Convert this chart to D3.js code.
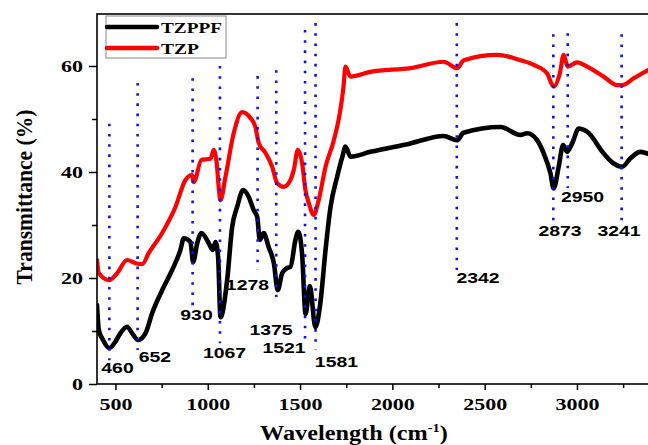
<!DOCTYPE html>
<html>
<head>
<meta charset="utf-8">
<script src="https://cdn.jsdelivr.net/npm/d3@7"></script>
<style>
  body { margin: 0; background: #fff; }
  svg { display: block; }
</style>
</head>
<body>
<div id="chart"></div>
<script>
// FTIR spectra
const blackWave = [400, 410, 430, 467, 500, 527, 563, 590, 623, 663, 699, 753, 807, 852, 870, 906, 921, 943, 966, 1005, 1027, 1042, 1056, 1069, 1105, 1132, 1159, 1192, 1222, 1249, 1268, 1282, 1303, 1330, 1358, 1379, 1403, 1430, 1448, 1475, 1490, 1511, 1530, 1553, 1583, 1610, 1638, 1665, 1701, 1730, 1746, 1773, 1881, 2098, 2278, 2351, 2385, 2586, 2694, 2730, 2784, 2820, 2856, 2874, 2901, 2925, 2947, 2974, 3010, 3055, 3145, 3199, 3245, 3290, 3344, 3400];
const blackT = [14.9, 10.2, 8.5, 6.8, 8.0, 9.6, 10.8, 9.6, 8.3, 9.6, 13.4, 17.7, 21.5, 25.3, 27.5, 26.8, 23.0, 26.6, 28.5, 26.6, 25.3, 26.8, 24.0, 12.6, 19.6, 29.6, 33.4, 36.6, 35.3, 32.8, 31.5, 27.2, 28.5, 25.8, 22.8, 17.7, 20.9, 21.9, 22.1, 27.2, 28.7, 24.5, 13.2, 18.5, 10.7, 15.3, 25.3, 33.4, 39.1, 43.0, 44.8, 42.9, 43.8, 45.4, 46.8, 46.0, 47.4, 48.5, 47.0, 47.3, 46.0, 43.5, 39.8, 36.9, 41.0, 45.1, 43.8, 45.4, 48.2, 47.6, 43.5, 41.6, 41.0, 42.6, 43.8, 43.2];

const redWave = [400, 410, 467, 509, 563, 608, 645, 680, 753, 825, 879, 915, 924, 966, 1015, 1032, 1045, 1069, 1096, 1141, 1186, 1231, 1258, 1276, 1313, 1349, 1376, 1412, 1448, 1466, 1488, 1511, 1529, 1547, 1574, 1601, 1638, 1683, 1715, 1735, 1746, 1773, 1881, 2098, 2278, 2351, 2387, 2568, 2694, 2766, 2838, 2874, 2907, 2928, 2950, 3001, 3055, 3145, 3217, 3245, 3308, 3400];
const redT = [23.4, 20.9, 19.6, 20.9, 23.4, 22.8, 22.6, 24.7, 28.5, 33.4, 38.5, 39.4, 38.1, 42.3, 42.5, 44.2, 42.6, 34.7, 39.1, 47.4, 51.3, 50.2, 48.5, 45.5, 43.6, 41.0, 37.9, 37.2, 38.5, 40.4, 44.2, 41.7, 36.6, 34.2, 31.9, 34.7, 41.0, 46.0, 51.0, 56.0, 59.9, 58.0, 58.9, 59.6, 60.8, 59.6, 61.1, 62.1, 61.1, 60.2, 58.6, 56.1, 58.6, 62.1, 59.9, 60.7, 59.9, 58.0, 56.4, 56.4, 57.7, 59.5];

const seriesNames = ["TZPPF", "TZP"];
const seriesColors = ["#000000", "#ff0000"];

// peak markers (dotted lines) and their labels, in data units
const peakLabels = ["460", "652", "930", "1067", "1278", "1375", "1521", "1581", "2342", "2873", "2950", "3241"];
const peakWave = [467, 620, 918, 1066, 1270, 1371, 1527, 1584, 2349, 2872, 2950, 3242];
const peakTop = [49.1, 56.8, 57.7, 60.0, 58.1, 59.2, 66.8, 68.1, 68.1, 66.0, 66.2, 66.0];
const peakBottom = [4.5, 6.4, 14.5, 7.7, 21.5, 16.4, 8.3, 6.4, 21.5, 30.9, 37.0, 30.9];
const labelWave = [511, 714, 939, 1091, 1215, 1343, 1413, 1697, 2464, 2908, 3030, 3228];
const labelT = [2.1, 4.2, 12.1, 4.9, 17.7, 9.2, 5.8, 3.2, 19.1, 27.9, 34.3, 27.9];

const xMajor = [500, 1000, 1500, 2000, 2500, 3000];
const xMinor = [750, 1250, 1750, 2250, 2750, 3250];
const yMajor = [0, 20, 40, 60];
const yMinor = [10, 30, 50];

const W = 648, H = 445;
const plotLeft = 97, plotTop = 14, plotBottom = 384;

const svg = d3.select("#chart")
  .append("svg")
  .attr("width", W)
  .attr("height", H);

const x = d3.scaleLinear().domain([400, 3400]).range([plotLeft, plotLeft + 3000 * 0.1846]);
const y = d3.scaleLinear().domain([0, 70]).range([plotBottom, 13]);

const serif = "'Liberation Serif', 'Times New Roman', serif";
const sans = "'Liberation Sans', Arial, sans-serif";

// squeeze/stretch a text horizontally to a given width
function stretch(text, width) {
  const bb = text.node().getBBox();
  return bb.width ? width / bb.width : 1;
}

function label(g, str, cx, by, width, opts) {
  const t = g.append("text")
    .attr("text-anchor", opts.anchor || "middle")
    .style("font-family", opts.font)
    .style("font-size", opts.size + "px")
    .style("font-weight", "bold")
    .attr("fill", "#000")
    .text(str);
  const s = stretch(t, width);
  t.attr("transform", `translate(${cx},${by}) scale(${s},1)`);
  return t;
}

// curves
const line = d3.line()
  .x(d => x(d[0]))
  .y(d => y(d[1]))
  .curve(d3.curveMonotoneX);

const series = [
  blackWave.map((w, i) => [w, blackT[i]]),
  redWave.map((w, i) => [w, redT[i]])
];

svg.append("defs").append("clipPath").attr("id", "clip")
  .append("rect").attr("x", plotLeft).attr("y", plotTop).attr("width", 700).attr("height", plotBottom - plotTop);

const plot = svg.append("g").attr("clip-path", "url(#clip)");

series.forEach((s, i) => {
  plot.append("path")
    .datum(s)
    .attr("fill", "none")
    .attr("stroke", seriesColors[i])
    .attr("stroke-width", i === 0 ? 4.6 : 4.2)
    .attr("stroke-linejoin", "round")
    .attr("stroke-linecap", "round")
    .attr("d", line);
});

// dotted peak lines
plot.selectAll(".peak")
  .data(peakWave)
  .join("line")
  .attr("class", "peak")
  .attr("x1", d => x(d))
  .attr("x2", d => x(d))
  .attr("y1", (d, i) => y(peakTop[i]))
  .attr("y2", (d, i) => y(peakBottom[i]))
  .attr("stroke", "#1010ee")
  .attr("stroke-width", 2.6)
  .attr("stroke-dasharray", "2.6 7.6");

// peak labels
const labels = svg.append("g");
peakLabels.forEach((p, i) => {
  label(labels, p, x(labelWave[i]), y(labelT[i]), p.length * 10.8,
    { font: sans, size: 15 });
});

// axes
const xAxis = svg.append("g")
  .attr("transform", `translate(0,${plotBottom})`)
  .call(d3.axisBottom(x).tickValues(xMajor).tickSize(6).tickPadding(9).tickFormat(d3.format("d")));
svg.append("g")
  .attr("transform", `translate(0,${plotBottom})`)
  .call(d3.axisBottom(x).tickValues(xMinor).tickSize(4).tickFormat(""))
  .call(g => g.select(".domain").remove());

const yAxis = svg.append("g")
  .attr("transform", `translate(${plotLeft},0)`)
  .call(d3.axisLeft(y).tickValues(yMajor).tickSize(8).tickPadding(6));
svg.append("g")
  .attr("transform", `translate(${plotLeft},0)`)
  .call(d3.axisLeft(y).tickValues(yMinor).tickSize(5).tickFormat(""))
  .call(g => g.select(".domain").remove());

svg.selectAll(".tick line").attr("stroke", "#000").attr("stroke-width", 1.5);
svg.selectAll(".domain").remove();

[xAxis, yAxis].forEach(ax => {
  ax.selectAll(".tick text")
    .style("font-family", serif)
    .style("font-size", "16px")
    .style("font-weight", "bold")
    .attr("fill", "#000")
    .each(function () {
      const t = d3.select(this);
      const tx = +t.attr("x") || 0;
      const s = stretch(t, t.text().length * 11);
      t.attr("x", 0).attr("transform", `translate(${tx},0) scale(${s},1)`);
    });
});

// frame (right side runs off the picture)
svg.append("rect")
  .attr("x", plotLeft)
  .attr("y", plotTop)
  .attr("width", 700)
  .attr("height", plotBottom - plotTop)
  .attr("fill", "none")
  .attr("stroke", "#000")
  .attr("stroke-width", 1.6);

// axis titles
const xt = svg.append("text")
  .attr("text-anchor", "middle")
  .style("font-family", serif)
  .style("font-size", "20px")
  .style("font-weight", "bold");
xt.append("tspan").text("Wavelength (cm");
xt.append("tspan").attr("dy", -8).style("font-size", "12px").text("-1");
xt.append("tspan").attr("dy", 8).text(")");
xt.attr("transform", `translate(354,440) scale(${stretch(xt, 188)},1)`);

const yt = svg.append("text")
  .attr("text-anchor", "middle")
  .style("font-family", serif)
  .style("font-size", "20px")
  .style("font-weight", "bold")
  .text("Transmittance (%)");
const ys = stretch(yt, 175);
yt.attr("transform", `translate(32,197) rotate(-90) scale(${ys},1.2)`);

// legend
const lg = svg.append("g");
lg.append("rect")
  .attr("x", 106).attr("y", 16)
  .attr("width", 120).attr("height", 42)
  .attr("fill", "#fff")
  .attr("stroke", "#888")
  .attr("stroke-width", 1);
const legendY = [27, 48];
seriesNames.forEach((n, i) => {
  lg.append("line")
    .attr("x1", 107).attr("x2", 157)
    .attr("y1", legendY[i]).attr("y2", legendY[i])
    .attr("stroke", seriesColors[i])
    .attr("stroke-width", 4.5)
    .attr("stroke-linecap", "round");
  label(lg, n, 161, legendY[i] + 6, n === "TZPPF" ? 61 : 38,
    { font: serif, size: 15, anchor: "start" });
});
</script>
</body>
</html>
